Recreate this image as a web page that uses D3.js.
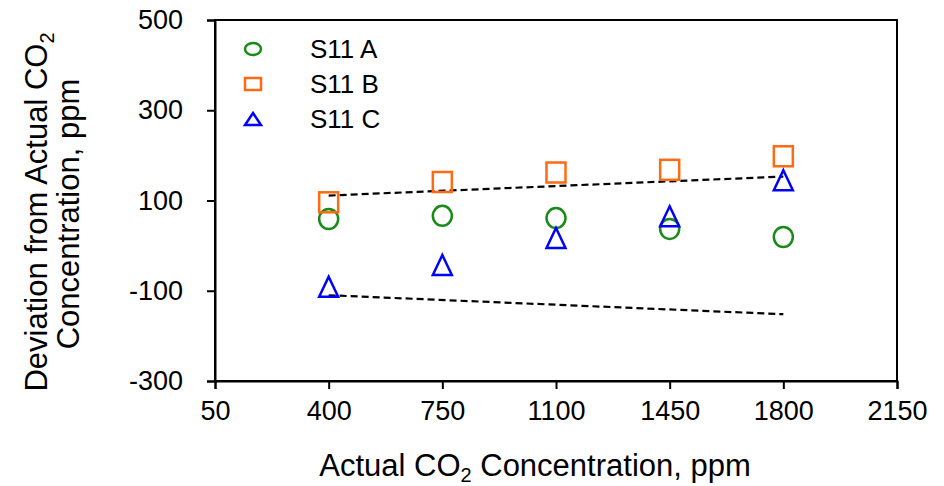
<!DOCTYPE html>
<html>
<head>
<meta charset="utf-8">
<script src="https://cdn.jsdelivr.net/npm/d3@7"></script>
<style>
  body { margin: 0; background: #fff; }
  text { font-family: "Liberation Sans", Arial, sans-serif; fill: #000; }
</style>
</head>
<body>
<div id="chart"></div>
<script>
const xValues = [400, 750, 1100, 1450, 1800]
const seriesA = [59, 66, 61, 37, 19]
const seriesB = [96, 141, 162, 168, 198]
const seriesC = [-91, -43, 17, 65, 145]
const xTicks = [50, 400, 750, 1100, 1450, 1800, 2150]
const yTicks = [500, 300, 100, -100, -300]
// limit lines (endpoints)
const limitX = [400, 1800]
const upperLimit = [111, 153]
const lowerLimit = [-110, -152]

const width = 944, height = 486
const margin = { top: 20, right: 47, bottom: 105, left: 215 }
const innerW = width - margin.left - margin.right
const innerH = height - margin.top - margin.bottom

const svg = d3.select("#chart").append("svg")
  .attr("width", width)
  .attr("height", height)

const g = svg.append("g")
  .attr("transform", "translate(" + margin.left + "," + margin.top + ")")

const x = d3.scaleLinear().domain([50, 2150]).range([0, innerW])
const y = d3.scaleLinear().domain([-300, 500]).range([innerH, 0])

// box
g.append("rect")
  .attr("width", innerW).attr("height", innerH)
  .attr("fill", "none").attr("stroke", "#000").attr("stroke-width", 2)

const fmt = d => String(d)
const xAxis = g.append("g")
  .attr("transform", "translate(0," + innerH + ")")
  .call(d3.axisBottom(x).tickValues(xTicks).tickSize(8).tickPadding(12).tickFormat(fmt))
const yAxis = g.append("g")
  .call(d3.axisLeft(y).tickValues(yTicks).tickSize(8).tickPadding(24).tickFormat(fmt))

;[xAxis, yAxis].forEach(a => {
  a.select(".domain").attr("stroke", "#000").attr("stroke-width", 2)
  a.selectAll(".tick line").attr("stroke", "#000").attr("stroke-width", 2)
  a.selectAll(".tick text").attr("font-size", 27).attr("fill", "#000")
    .style("font-family", '"Liberation Sans", Arial, sans-serif')
})

// dashed limit lines
const line = d3.line().x(d => x(d[0])).y(d => y(d[1]))
;[upperLimit, lowerLimit].forEach(lim => {
  g.append("path")
    .datum(limitX.map((v, i) => [v, lim[i]]))
    .attr("d", line)
    .attr("fill", "none")
    .attr("stroke", "#000")
    .attr("stroke-width", 2.2)
    .attr("stroke-dasharray", "7,4")
})

const green = "#1a8a1a", orange = "#ff6a13", blue = "#0000ff"

function drawMarker(sel, type, color, cx, cy, w, h) {
  if (type === "circle") {
    sel.append("ellipse").attr("cx", cx).attr("cy", cy).attr("rx", w).attr("ry", h)
      .attr("fill", "none").attr("stroke", color).attr("stroke-width", 2.5)
  } else if (type === "square") {
    sel.append("rect").attr("x", cx - w).attr("y", cy - h).attr("width", w * 2).attr("height", h * 2)
      .attr("fill", "none").attr("stroke", color).attr("stroke-width", 2.5)
  } else {
    const pts = [[cx, cy - h], [cx + w, cy + h], [cx - w, cy + h]]
    sel.append("polygon").attr("points", pts.map(p => p.join(",")).join(" "))
      .attr("fill", "none").attr("stroke", color).attr("stroke-width", 2.5)
  }
}

const series = [
  { name: "S11 A", values: seriesA, type: "circle", color: green },
  { name: "S11 B", values: seriesB, type: "square", color: orange },
  { name: "S11 C", values: seriesC, type: "triangle", color: blue }
]

series.forEach(s => {
  const mg = g.append("g")
  s.values.forEach((v, i) => drawMarker(mg, s.type, s.color, x(xValues[i]), y(v), 9.5, 10))
})

// legend
const legend = svg.append("g").attr("transform", "translate(253,49)")
series.forEach((s, i) => {
  const row = legend.append("g").attr("transform", "translate(0," + (i * 35) + ")")
  drawMarker(row, s.type, s.color, 0, 0, 8, 6)
  row.append("text").attr("x", 57).attr("y", 0).attr("dy", "0.35em")
    .attr("font-size", 26).text(s.name)
})

// axis titles
const xt = svg.append("text")
  .attr("x", margin.left + innerW / 2 - 21).attr("y", 476)
  .attr("text-anchor", "middle").attr("font-size", 31)
xt.append("tspan").text("Actual CO")
xt.append("tspan").attr("font-size", 20).attr("dy", 6).text("2")
xt.append("tspan").attr("dy", -6).text(" Concentration, ppm")

const yt = svg.append("text")
  .attr("transform", "translate(47,212) rotate(-90)")
  .attr("text-anchor", "middle").attr("font-size", 31)
yt.append("tspan").text("Deviation from Actual CO")
yt.append("tspan").attr("font-size", 20).attr("dy", 7).text("2")
svg.append("text")
  .attr("transform", "translate(79,214) rotate(-90)")
  .attr("text-anchor", "middle").attr("font-size", 31)
  .text("Concentration, ppm")
</script>
</body>
</html>
